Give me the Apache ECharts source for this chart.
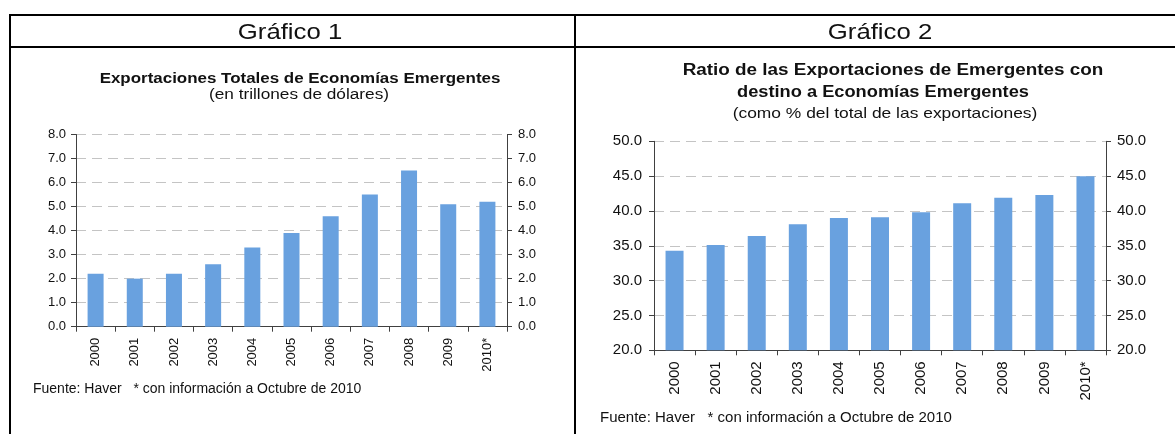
<!DOCTYPE html>
<html>
<head>
<meta charset="utf-8">
<script src="https://cdn.jsdelivr.net/npm/echarts@6/dist/echarts.min.js"></script>
<style>
  html, body { margin: 0; padding: 0; background: #fff; }
  #main { width: 1175px; height: 434px; }
</style>
</head>
<body>
<div id="main"></div>
<script>
// categorías (años)
const years = ["2000", "2001", "2002", "2003", "2004", "2005", "2006", "2007", "2008", "2009", "2010*"];
// Gráfico 1: exportaciones totales (trillones de dólares)
const exportsTotal = [2.2, 2.0, 2.2, 2.6, 3.3, 3.9, 4.6, 5.5, 6.5, 5.1, 5.2];
// Gráfico 2: ratio a emergentes (% del total)
const ratioEmerging = [34.3, 35.1, 36.4, 38.1, 39.0, 39.1, 39.8, 41.1, 41.9, 42.3, 45.0];

const FONT = "Liberation Sans, Arial, sans-serif";
const BAR = "#69a1df";
const AXIS = "#404040";

const chart = echarts.init(document.getElementById("main"));

// eje y (izquierda o derecha)
function yAxis(grid, pos, min, max, step, size, margin, split) {
  return {
    type: "value",
    gridIndex: grid,
    position: pos,
    min: min, max: max, interval: step,
    axisLine: { show: true, lineStyle: { color: AXIS, width: 1 } },
    axisTick: { show: true, length: 5, lineStyle: { color: AXIS } },
    axisLabel: {
      color: "#111", fontFamily: FONT, fontSize: size, margin: margin,
      formatter: (v) => v.toFixed(1),
    },
    splitLine: {
      show: split,
      lineStyle: { color: "#c4c4c4", type: [10, 6], width: 1 },
    },
  };
}

function xAxis(grid, size) {
  return {
    type: "category",
    gridIndex: grid,
    data: years,
    axisLine: { show: true, lineStyle: { color: AXIS, width: 1 } },
    axisTick: { show: true, length: 5, interval: 0, lineStyle: { color: AXIS } },
    axisLabel: {
      rotate: 90, interval: 0, margin: 11,
      color: "#111", fontFamily: FONT, fontSize: size,
    },
  };
}

// texto; sx estira en horizontal como en el original
function txt(x, y, text, size, bold, align, sx) {
  return {
    type: "text", x: x, y: y, silent: true,
    scaleX: sx || 1,
    style: {
      text: text, fill: "#111",
      font: (bold ? "bold " : "") + size + "px " + FONT,
      textAlign: align || "center", textVerticalAlign: "middle",
    },
  };
}

function line(x1, y1, x2, y2) {
  return {
    type: "line", silent: true,
    shape: { x1: x1, y1: y1, x2: x2, y2: y2 },
    style: { stroke: "#000", lineWidth: 2 },
  };
}

const option = {
  animation: false,
  backgroundColor: "#fff",
  grid: [
    { left: 76, right: 668, top: 134.5, bottom: 107.3, containLabel: false, outerBoundsMode: "none" },
    { left: 654, right: 69, top: 141.3, bottom: 83.7, containLabel: false, outerBoundsMode: "none" },
  ],
  xAxis: [xAxis(0, 13), xAxis(1, 15)],
  yAxis: [
    yAxis(0, "left", 0, 8, 1, 13, 10, true),
    yAxis(0, "right", 0, 8, 1, 13, 11, false),
    yAxis(1, "left", 20, 50, 5, 15, 12, true),
    yAxis(1, "right", 20, 50, 5, 15, 11, false),
  ],
  series: [
    {
      type: "bar", xAxisIndex: 0, yAxisIndex: 0,
      data: exportsTotal, barWidth: 16,
      itemStyle: { color: BAR },
    },
    {
      type: "bar", xAxisIndex: 1, yAxisIndex: 2,
      data: ratioEmerging, barWidth: 18,
      itemStyle: { color: BAR },
    },
  ],
  graphic: [
    // marco de la tabla
    line(9, 15, 1175, 15),
    line(9, 47, 1175, 47),
    line(10, 14, 10, 434),
    line(575, 14, 575, 434),
    // encabezados
    txt(290, 32.5, "Gráfico 1", 22, false, "center", 1.17),
    txt(880, 32.5, "Gráfico 2", 22, false, "center", 1.17),
    // títulos
    txt(300, 79, "Exportaciones Totales de Economías Emergentes", 14, true, "center", 1.21),
    txt(299, 95, "(en trillones de dólares)", 14, false, "center", 1.23),
    txt(893, 71, "Ratio de las Exportaciones de Emergentes con", 16, true, "center", 1.18),
    txt(883, 93, "destino a Economías Emergentes", 16, true, "center", 1.14),
    txt(885, 114, "(como % del total de las exportaciones)", 15, false, "center", 1.16),
    // fuentes
    txt(33, 389, "Fuente: Haver   * con información a Octubre de 2010", 14, false, "left"),
    txt(600, 418, "Fuente: Haver   * con información a Octubre de 2010", 15, false, "left"),
  ],
};

chart.setOption(option);
window.addEventListener("resize", chart.resize);
</script>
</body>
</html>
